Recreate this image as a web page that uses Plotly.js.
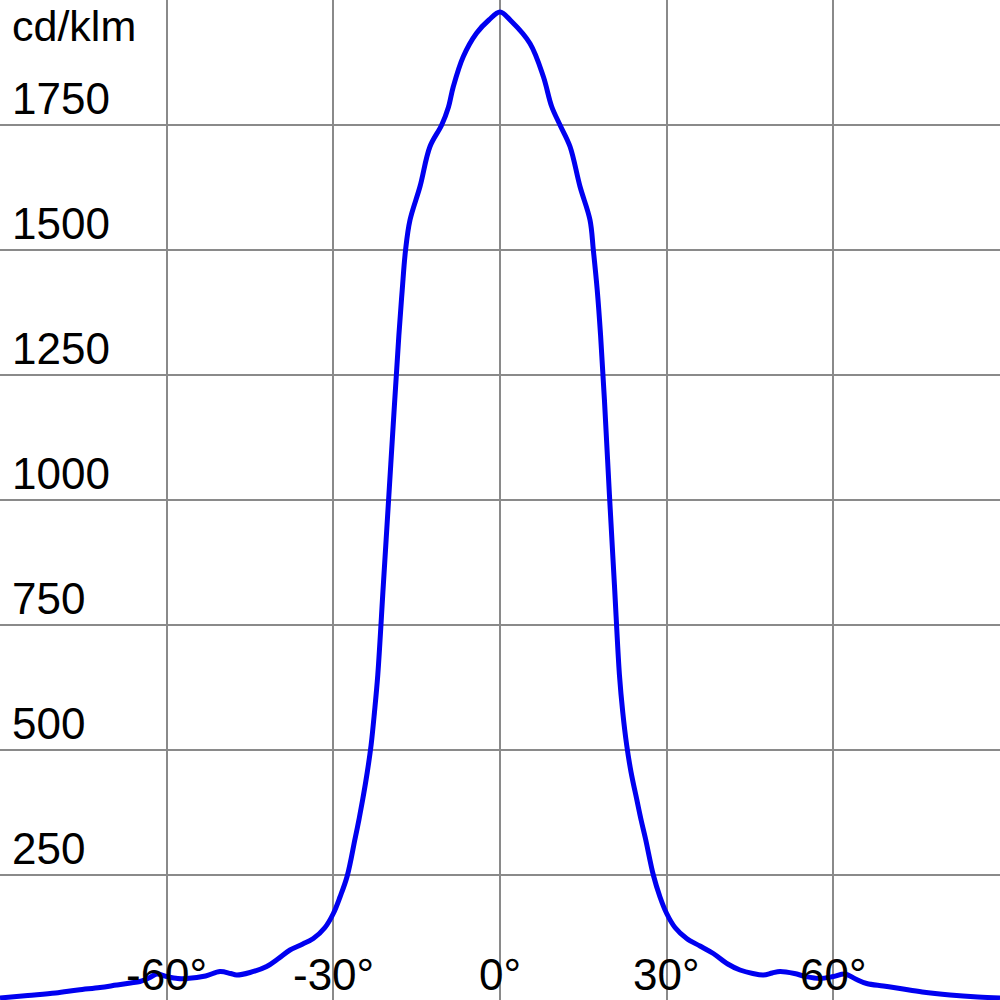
<!DOCTYPE html>
<html>
<head>
<meta charset="utf-8">
<script src="https://cdn.plot.ly/plotly-3.0.1.min.js"></script>
<style>
html,body{margin:0;padding:0;background:#fff;}
#chart{width:1000px;height:1000px;}
</style>
</head>
<body>
<div id="chart"></div>
<script>
// Luminous intensity distribution (cd/klm) vs angle (degrees)
const angles = [-90,-85,-80,-76,-72,-69,-66.5,-64.8,-63,-61.8,-60,-58,-56.4,-53,-50.4,-48.5,-47.4,-45,-42,-40,-37.8,-35.5,-33.6,-31.5,-30,-28.8,-27.5,-26.1,-25.4,-24.7,-23.9,-23.2,-22.6,-22,-21,-20,-19,-18.2,-17.6,-17,-16.2,-14.4,-12.6,-10.5,-9.3,-8.4,-6.6,-4.2,-2,0,
  2,5.4,7.8,9.3,10.8,12.6,14.4,16.2,16.8,17.5,18.1,18.8,19.7,20.6,21.5,22.1,22.8,23.6,24.6,25.4,26.2,27.6,28.8,30,31.5,33.6,36,38.4,41,43.2,45.5,47.4,49,50.4,53,55,57.6,60,62.1,64,66,69,72,76,81,86,90];
const intensity = [4,9,14,20,25,30,34,37,45,52,47,43,43,48,57,53,50,55,67,82,100,112,123,145,173,206,248,322,360,402,455,510,575,650,830,1010,1190,1330,1420,1500,1560,1627,1707,1750,1785,1827,1887,1934,1960,1976,
  1958,1913,1847,1787,1750,1707,1627,1560,1500,1420,1330,1200,1010,830,650,575,510,455,402,360,322,250,206,173,145,123,108,93,72,60,53,50,54,57,53,47,43,47,52,42,33,28,23,16,10,6,4];

const yTickVals = [250,500,750,1000,1250,1500,1750];
const yTickText = ["250","500","750","1000","1250","1500","1750"];
const xTickVals = [-60,-30,0,30,60];
const xTickText = ["-60°","-30°","0°","30°","60°"];
const unitLabel = "cd/klm";

const FONT = "Liberation Sans, Arial, sans-serif";
const annotations = [];
yTickVals.forEach((v,i)=>{
  annotations.push({x:-90, y:v, xref:'x', yref:'y', text:yTickText[i], showarrow:false,
    xanchor:'left', yanchor:'bottom', xshift:10, yshift:0,
    font:{family:FONT, size:44, color:'#000'}});
});
xTickVals.forEach((v,i)=>{
  annotations.push({x:v, y:0, xref:'x', yref:'y', text:xTickText[i], showarrow:false,
    xanchor:'center', yanchor:'bottom', xshift:0, yshift:-1,
    font:{family:FONT, size:44, color:'#000'}});
});
annotations.push({x:-90, y:2000, xref:'x', yref:'y', text:unitLabel, showarrow:false,
  xanchor:'left', yanchor:'top', xshift:10, yshift:0,
  font:{family:FONT, size:43, color:'#000'}});

const trace = {
  x: angles, y: intensity, type:'scatter', mode:'lines',
  line:{color:'#0000f0', width:5, shape:'spline', smoothing:1},
  hoverinfo:'skip'
};

const layout = {
  width:1000, height:1000,
  margin:{l:0,r:0,t:0,b:0,pad:0},
  paper_bgcolor:'#fff', plot_bgcolor:'#fff',
  showlegend:false,
  xaxis:{range:[-90,90], tickvals:[-90,-60,-30,0,30,60,90], showticklabels:false,
    showgrid:true, gridcolor:'#8a8a8a', gridwidth:2, zeroline:false,
    showline:true, mirror:true, linecolor:'#8a8a8a', linewidth:3, fixedrange:true},
  yaxis:{range:[0,2000], tickvals:[0,250,500,750,1000,1250,1500,1750,2000], showticklabels:false,
    showgrid:true, gridcolor:'#8a8a8a', gridwidth:2, zeroline:false,
    showline:true, mirror:true, linecolor:'#8a8a8a', linewidth:3, fixedrange:true},
  annotations: annotations
};

Plotly.newPlot('chart', [trace], layout, {staticPlot:true, displayModeBar:false});
</script>
</body>
</html>
